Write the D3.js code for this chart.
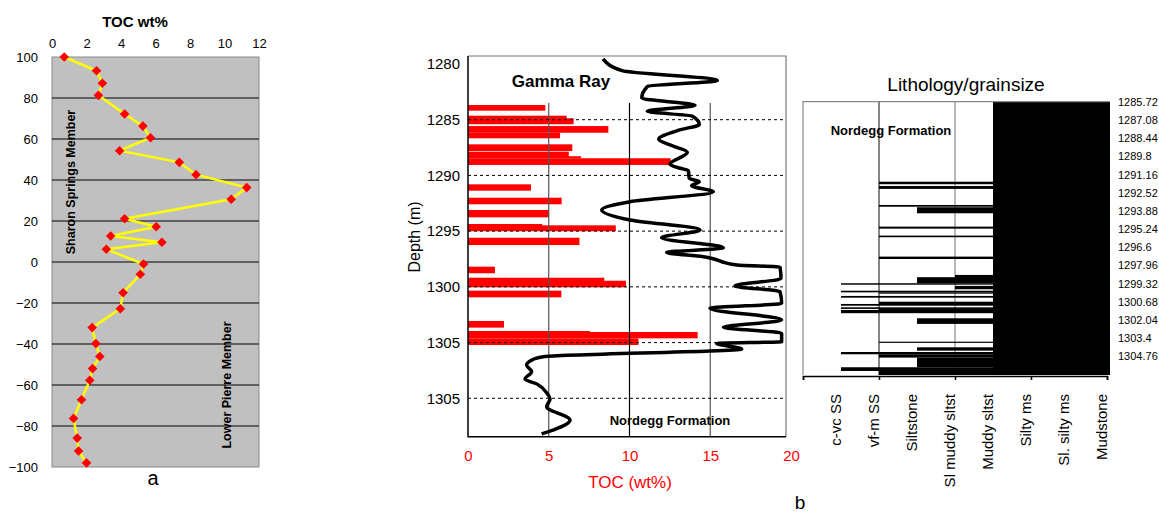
<!DOCTYPE html>
<html>
<head>
<meta charset="utf-8">
<script src="https://cdn.jsdelivr.net/npm/d3@7"></script>
<style>
  body { margin: 0; background: #fff; }
  svg { font-family: "Liberation Sans", Arial, sans-serif; }
</style>
</head>
<body>
<svg id="chart" width="1159" height="514"></svg>
<script>
// ---- data: panel a (stratigraphic position vs TOC) ----
const aPosition = [100, 93.3, 87.2, 81.3, 72.2, 66.3, 60.6, 54.3, 48.6, 42.6, 36.3, 30.6, 21.1, 17.2, 12.7, 9.6, 6.2,
  -1, -6, -15, -22.8, -32, -39.8, -46.1, -52, -57.7, -67.2, -76.3, -85.9, -92.2, -98];
const aToc = [0.71, 2.58, 2.92, 2.69, 4.21, 5.27, 5.71, 3.92, 7.38, 8.35, 11.29, 10.39, 4.21, 6.04, 3.40, 6.37, 3.15,
  5.31, 5.12, 4.12, 3.96, 2.33, 2.54, 2.77, 2.35, 2.19, 1.71, 1.25, 1.46, 1.54, 2.0];
const aXTicks = [0, 2, 4, 6, 8, 10, 12];
const aYTicks = [100, 80, 60, 40, 20, 0, -20, -40, -60, -80, -100];

// ---- data: panel b, TOC bars (top depth, base depth, wt%) ----
const tocBars = [
  [1283.68, 1284.19, 4.79], [1284.64, 1285.12, 6.11], [1284.87, 1285.41, 6.54], [1285.57, 1286.17, 8.69],
  [1286.17, 1286.67, 5.70], [1287.21, 1287.81, 6.46], [1287.87, 1288.41, 6.24], [1288.28, 1288.46, 7.0],
  [1288.46, 1289.06, 12.55], [1290.80, 1291.37, 3.9], [1292.0, 1292.59, 5.8], [1293.10, 1293.76, 5.02],
  [1294.36, 1294.54, 4.6], [1294.48, 1295.01, 9.15], [1295.59, 1296.25, 6.9], [1298.19, 1298.78, 1.67],
  [1299.18, 1299.54, 8.44], [1299.45, 1300.04, 9.78], [1300.34, 1300.94, 5.78], [1303.06, 1303.66, 2.23],
  [1303.96, 1304.14, 7.55], [1304.05, 1304.62, 14.22], [1304.62, 1305.22, 10.55]
];

// gamma ray log
const grDepth = [1279.55, 1280.59, 1281.48, 1282.02, 1283.05, 1283.71, 1284.25, 1284.69, 1285.43, 1285.92, 1286.76,
  1287.36, 1287.93, 1289.0, 1289.36, 1289.56, 1290.26, 1290.56, 1290.92, 1291.46, 1292.36, 1293.10, 1294.0,
  1294.90, 1295.59, 1296.49, 1296.92, 1297.29, 1298.04, 1298.22, 1299.25, 1299.92, 1300.43, 1301.48, 1301.92,
  1302.97, 1303.63, 1304.17, 1304.92, 1305.08, 1305.58, 1306.27, 1306.50, 1307.01, 1307.61, 1308.27, 1308.72,
  1309.55, 1310.06, 1310.75, 1311.95, 1313.20];
const grApi = [83.6, 95.4, 154.4, 111.1, 107.6, 140.6, 111.0, 139.0, 143.2, 131.0, 118.1,
  126.9, 135.8, 125.1, 131.3, 136.4, 137.0, 143.2, 138.5, 151.9, 100.3, 82.8, 100.3,
  143.7, 119.9, 158.1, 123.0, 145.7, 166.6, 193.2, 193.8, 165.3, 193.2, 194.2, 149.8,
  194.2, 158.1, 194.2, 194.2, 154.0, 169.5, 46.6, 40.4, 36.3, 39.4, 35.3, 42.7,
  48.9, 50.8, 48.7, 63.2, 45.6];

const depthTicks = [1280, 1285, 1290, 1295, 1300, 1305, 1310];
const depthLabels = ['1280', '1285', '1290', '1295', '1300', '1305', '1305'];
const tocTicks = [0, 5, 10, 15, 20];

// ---- data: lithology ----
const grainClasses = ['c-vc SS', 'vf-m SS', 'Siltstone', 'Sl muddy sltst', 'Muddy sltst', 'Silty ms', 'Sl. silty ms', 'Mudstone'];
const lithBackground = 5; // Muddy sltst
const lithBeds = [
  [1291.70, 1291.89, 2], [1292.02, 1292.24, 2], [1293.44, 1293.57, 2], [1293.61, 1294.06, 3],
  [1295.06, 1295.21, 2], [1295.73, 1295.85, 2], [1297.30, 1297.48, 2], [1298.67, 1298.92, 4],
  [1298.84, 1299.29, 3], [1299.29, 1299.40, 1], [1299.49, 1299.74, 4], [1299.85, 1299.97, 1],
  [1299.97, 1300.07, 2], [1300.24, 1300.37, 1], [1300.67, 1300.91, 2], [1300.84, 1300.97, 1],
  [1301.09, 1301.21, 1], [1301.21, 1301.29, 2], [1301.29, 1301.53, 1], [1301.91, 1302.33, 3],
  [1303.66, 1303.75, 2], [1304.08, 1304.33, 3], [1304.43, 1304.60, 1], [1304.60, 1304.85, 2],
  [1304.85, 1305.57, 3], [1305.57, 1305.85, 1], [1305.85, 1306.15, 2]
];
const lithDepthLabels = ['1285.72', '1287.08', '1288.44', '1289.8', '1291.16', '1292.52', '1293.88', '1295.24',
  '1296.6', '1297.96', '1299.32', '1300.68', '1302.04', '1303.4', '1304.76'];

const svg = d3.select('#chart');

// ================= Panel a =================
const xA = d3.scaleLinear().domain([0, 12]).range([52, 259]);
const yA = d3.scaleLinear().domain([-100, 100]).range([467, 57]);
const gA = svg.append('g');

gA.append('rect')
  .attr('x', xA(0)).attr('y', yA(100))
  .attr('width', xA(12) - xA(0)).attr('height', yA(-100) - yA(100))
  .attr('fill', '#c0c0c0').attr('stroke', '#8a8a8a');

gA.selectAll('line.grid')
  .data(aYTicks.filter(d => d > -100 && d < 100))
  .join('line')
  .attr('class', 'grid')
  .attr('x1', xA(0)).attr('x2', xA(12))
  .attr('y1', d => yA(d)).attr('y2', d => yA(d))
  .attr('stroke', '#000').attr('stroke-width', 1.2);

const styleAxis = (g, size) => {
  g.select('.domain').remove();
  g.attr('font-family', null).attr('font-size', size);
  g.selectAll('text').attr('fill', '#000');
};

gA.append('g')
  .attr('transform', `translate(0,${yA(100)})`)
  .call(d3.axisTop(xA).tickValues(aXTicks).tickSize(0).tickPadding(9))
  .call(g => styleAxis(g, 13));

gA.append('g')
  .attr('transform', `translate(${xA(0)},0)`)
  .call(d3.axisLeft(yA).tickValues(aYTicks).tickSize(0).tickPadding(14))
  .call(g => styleAxis(g, 13));

gA.append('text')
  .attr('x', 135).attr('y', 27)
  .attr('text-anchor', 'middle').attr('font-size', 15).attr('font-weight', 'bold')
  .text('TOC wt%');

const aPoints = aPosition.map((p, i) => ({ pos: p, toc: aToc[i] }));

gA.append('path')
  .datum(aPoints)
  .attr('fill', 'none').attr('stroke', '#ffff00').attr('stroke-width', 2.5)
  .attr('d', d3.line().x(d => xA(d.toc)).y(d => yA(d.pos)));

gA.selectAll('path.marker')
  .data(aPoints)
  .join('path')
  .attr('class', 'marker')
  .attr('d', d3.symbol(d3.symbolSquare, 46))
  .attr('transform', d => `translate(${xA(d.toc)},${yA(d.pos)}) rotate(45)`)
  .attr('fill', '#ff0000');

gA.append('text')
  .attr('transform', 'translate(75,182) rotate(-90)')
  .attr('text-anchor', 'middle').attr('font-size', 12.5).attr('font-weight', 'bold')
  .text('Sharon Springs Member');

gA.append('text')
  .attr('transform', 'translate(231,385) rotate(-90)')
  .attr('text-anchor', 'middle').attr('font-size', 12.5).attr('font-weight', 'bold')
  .text('Lower Pierre Member');

svg.append('text')
  .attr('x', 153).attr('y', 485)
  .attr('text-anchor', 'middle').attr('font-size', 20)
  .text('a');

// ================= Panel b: TOC + gamma ray =================
const bTop = 56, bBottom = 436.7, bLeft = 468, bRight = 786;
const xB = d3.scaleLinear().domain([0, 20]).range([468, 791]);
const grX = d3.scaleLinear().domain([0, 200]).range([468, 791]);
const yB = d3.scaleLinear().domain([1285, 1310]).range([119.7, 398.3]);
const gB = svg.append('g');

gB.selectAll('rect.toc')
  .data(tocBars)
  .join('rect')
  .attr('class', 'toc')
  .attr('x', xB(0))
  .attr('y', d => yB(d[0]))
  .attr('width', d => xB(d[2]) - xB(0))
  .attr('height', d => yB(d[1]) - yB(d[0]))
  .attr('fill', '#ff0000');

// vertical grid of the TOC scale
gB.selectAll('line.vgrid')
  .data([5, 10, 15])
  .join('line')
  .attr('class', 'vgrid')
  .attr('x1', d => xB(d)).attr('x2', d => xB(d))
  .attr('y1', yB(1283.5)).attr('y2', bBottom)
  .attr('stroke', d => d === 10 ? '#000' : '#555')
  .attr('stroke-width', 1.2);

// dashed depth lines
gB.selectAll('line.dash')
  .data(depthTicks.slice(1))
  .join('line')
  .attr('class', 'dash')
  .attr('x1', bLeft).attr('x2', bRight)
  .attr('y1', d => yB(d)).attr('y2', d => yB(d))
  .attr('stroke', '#000').attr('stroke-width', 1)
  .attr('stroke-dasharray', '3,3');

const grPoints = grDepth.map((d, i) => ({ depth: d, api: grApi[i] }));
gB.append('path')
  .datum(grPoints)
  .attr('fill', 'none').attr('stroke', '#000').attr('stroke-width', 3.5)
  .attr('stroke-linejoin', 'round')
  .attr('d', d3.line().curve(d3.curveMonotoneY).x(d => grX(d.api)).y(d => yB(d.depth)));

// frame
gB.append('path')
  .attr('d', `M${bLeft},${bTop}H${bRight}V${bBottom}`)
  .attr('fill', 'none').attr('stroke', '#777').attr('stroke-width', 1.2);
gB.append('path')
  .attr('d', `M${bLeft},${bTop}V${bBottom}H${bRight}`)
  .attr('fill', 'none').attr('stroke', '#000').attr('stroke-width', 1.5);

gB.append('g')
  .attr('transform', `translate(${bLeft},0)`)
  .call(d3.axisLeft(yB).tickValues(depthTicks).tickFormat((d, i) => depthLabels[i]).tickSize(0).tickPadding(8))
  .call(g => styleAxis(g, 15));

gB.append('g')
  .attr('transform', `translate(0,${bBottom})`)
  .call(d3.axisBottom(xB).tickValues(tocTicks).tickSize(0).tickPadding(14))
  .call(g => styleAxis(g, 15))
  .call(g => g.selectAll('text').attr('fill', '#ff0000'));

gB.append('text')
  .attr('x', 630).attr('y', 488)
  .attr('text-anchor', 'middle').attr('font-size', 17).attr('fill', '#ff0000')
  .text('TOC (wt%)');

gB.append('text')
  .attr('transform', 'translate(420,237) rotate(-90)')
  .attr('text-anchor', 'middle').attr('font-size', 16)
  .text('Depth (m)');

gB.append('text')
  .attr('x', 561).attr('y', 87)
  .attr('text-anchor', 'middle').attr('font-size', 17).attr('font-weight', 'bold')
  .text('Gamma Ray');

gB.append('text')
  .attr('x', 670).attr('y', 425)
  .attr('text-anchor', 'middle').attr('font-size', 13).attr('font-weight', 'bold')
  .text('Nordegg Formation');

svg.append('text')
  .attr('x', 800).attr('y', 509)
  .attr('text-anchor', 'middle').attr('font-size', 19)
  .text('b');

// ================= Panel b: lithology =================
const xL = d3.scaleLinear().domain([0, 8]).range([803, 1107]);
const yL = d3.scaleLinear().domain([1285.72, 1306.15]).range([101.7, 375]);
const lRight = 1110;
const gL = svg.append('g');

gL.selectAll('line.lgrid')
  .data([2, 4])
  .join('line')
  .attr('class', 'lgrid')
  .attr('x1', d => xL(d)).attr('x2', d => xL(d))
  .attr('y1', yL.range()[0]).attr('y2', yL.range()[1])
  .attr('stroke', d => d === 2 ? '#333' : '#888').attr('stroke-width', 1.2);

gL.append('rect')
  .attr('x', xL(lithBackground)).attr('y', yL.range()[0])
  .attr('width', lRight - xL(lithBackground)).attr('height', yL.range()[1] - yL.range()[0])
  .attr('fill', '#000');

gL.selectAll('rect.bed')
  .data(lithBeds)
  .join('rect')
  .attr('class', 'bed')
  .attr('x', d => xL(d[2]))
  .attr('y', d => yL(d[0]))
  .attr('width', d => lRight - xL(d[2]))
  .attr('height', d => Math.max(1, yL(d[1]) - yL(d[0])))
  .attr('fill', '#000');

gL.append('path')
  .attr('d', `M${xL(0)},${yL.range()[1]}V${yL.range()[0]}H${lRight}`)
  .attr('fill', 'none').attr('stroke', '#888').attr('stroke-width', 1.2);

gL.append('g')
  .attr('transform', `translate(0,${yL.range()[1] + 1})`)
  .call(d3.axisBottom(xL).tickValues([0, 2, 4, 6, 8]).tickSize(4).tickFormat(''))
  .call(g => g.select('.domain').attr('stroke', '#000').attr('stroke-width', 1.5))
  .call(g => g.selectAll('.tick line').attr('stroke', '#000').attr('stroke-width', 1.5));

gL.selectAll('text.cls')
  .data(grainClasses)
  .join('text')
  .attr('class', 'cls')
  .attr('transform', (d, i) => `translate(${xL(i + 1) - 5},394) rotate(-90)`)
  .attr('text-anchor', 'end').attr('dy', '0.35em').attr('font-size', 15)
  .text(d => d);

gL.append('g')
  .attr('transform', `translate(${lRight},0)`)
  .call(d3.axisRight(yL).tickValues(lithDepthLabels.map(Number)).tickFormat((d, i) => lithDepthLabels[i]).tickSize(0).tickPadding(8))
  .call(g => styleAxis(g, 11));

gL.append('text')
  .attr('x', 966).attr('y', 91)
  .attr('text-anchor', 'middle').attr('font-size', 19)
  .text('Lithology/grainsize');

gL.append('text')
  .attr('x', 891).attr('y', 135)
  .attr('text-anchor', 'middle').attr('font-size', 13).attr('font-weight', 'bold')
  .text('Nordegg Formation');
</script>
</body>
</html>
